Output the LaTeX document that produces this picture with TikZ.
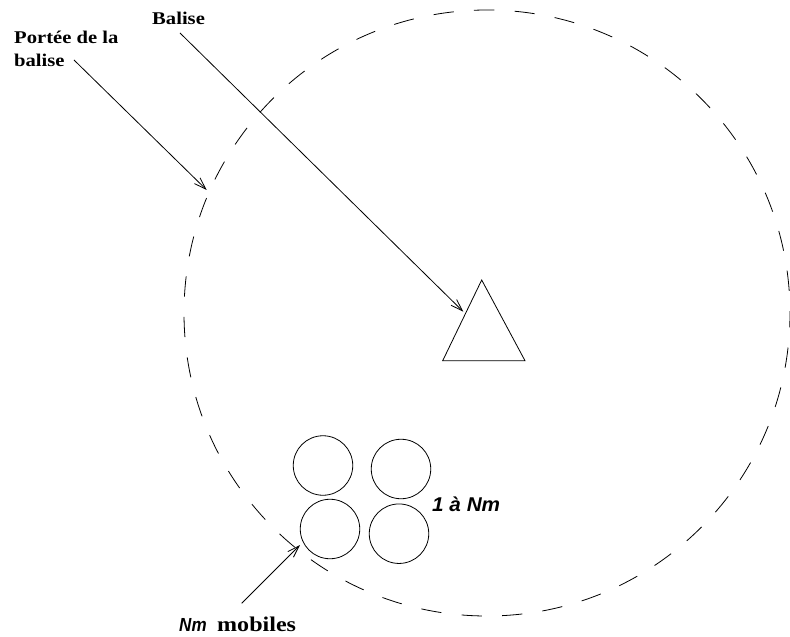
\documentclass[tikz,border=0pt]{standalone}
\usepackage{fontspec}
\usepackage{graphicx}
\setmainfont{Liberation Serif}
\newfontfamily\arialf{Liberation Sans}
\usetikzlibrary{arrows.meta}
\newcommand{\wide}[2][1.15]{\scalebox{#1}[1]{#2}}
\tikzset{
  lbl/.style={font=\bfseries\fontsize{18}{22.7}\selectfont, inner sep=0pt, anchor=base west},
  pointer/.style={line width=0.8bp, -{Straight Barb[length=12bp,width=8bp,line width=0.8bp]}},
  mobile/.style={circle, draw, line width=0.8bp, minimum size=59.5bp, inner sep=0pt},
  rangecircle/.style={line width=0.8bp, dash pattern=on 20.3bp off 20.3bp, dash phase=6bp},
  beacon/.style={line width=0.8bp, line join=miter}
}
\begin{document}
\begin{tikzpicture}[x=1bp,y=-1bp]
\useasboundingbox (0,0) rectangle (790,637);
% range circle
\draw[rangecircle] (487,313) circle[radius=303];
% beacon triangle
\coordinate (apex) at (481.7,280);
\coordinate (bl) at (442.7,360.7);
\coordinate (br) at (525,360.7);
\draw[beacon] (apex) -- (bl) -- (br) -- cycle;
% mobiles
\node[mobile] (m1) at (323,465.5) {};
\node[mobile] (m2) at (401,469) {};
\node[mobile] (m3) at (330,529) {};
\node[mobile] (m4) at (399,533.7) {};
% labels
\node[lbl] (portee) at (14,44) {\wide{\begin{tabular}[t]{@{}l@{}}Portée de la\\balise\end{tabular}}};
\node[lbl] (balise) at (152,25) {\wide{Balise}};
\node[inner sep=0pt, anchor=base west] (count) at (432,511.7) {\wide[1.04]{\arialf\bfseries\itshape\fontsize{20}{24}\selectfont 1 à Nm}};
\node[inner sep=0pt, anchor=base west] (nmlbl) at (179,631) {\wide[0.9]{\arialf\bfseries\itshape\fontsize{19}{22}\selectfont Nm}};
\node[inner sep=0pt, anchor=base west] (mob) at (217,631) {\wide{\bfseries\fontsize{21}{25}\selectfont mobiles}};
% pointer ends
\coordinate (p1s) at (74,60);
\coordinate (p1e) at (206.7,190);
\coordinate (p2s) at (180,33);
\coordinate (p2e) at (463.3,311.7);
\coordinate (p3s) at (241.7,603.3);
\coordinate (p3e) at (300,545);
\draw[pointer] (p1s) -- (p1e);
\draw[pointer] (p2s) -- (p2e);
\draw[pointer] (p3s) -- (p3e);
\end{tikzpicture}
\end{document}
